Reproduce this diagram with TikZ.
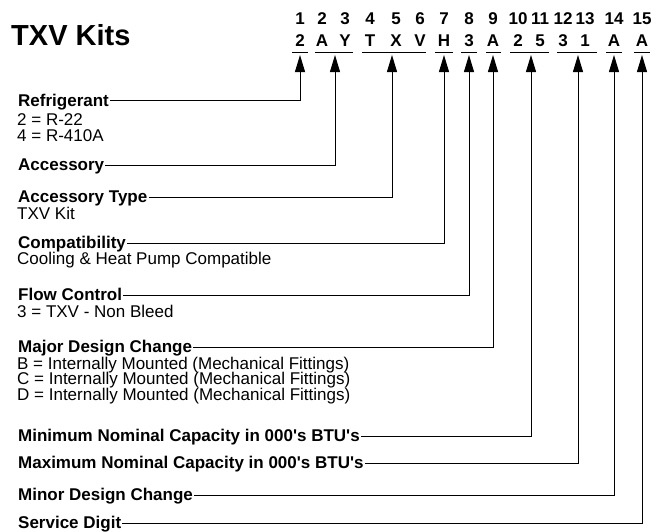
\documentclass[tikz,border=0pt]{standalone}
\usepackage{fontspec}
\setmainfont{Liberation Sans}[Ligatures=TeXOff]
\usetikzlibrary{arrows.meta}
\tikzset{
  titletxt/.style={font=\fontsize{29}{32}\selectfont\bfseries, inner sep=0pt, anchor=base west},
  digittxt/.style={font=\fontsize{17}{20}\selectfont\bfseries, inner sep=0pt, anchor=base},
  headtxt/.style={font=\fontsize{17}{20}\selectfont\bfseries, inner sep=1pt,
    text height=13pt, text depth=2pt, anchor=west},
  subtxt/.style={font=\fontsize{17}{20}\selectfont, inner sep=0pt, anchor=base west},
  uline/.style={line width=1pt},
  leadln/.style={line width=1pt, -{Triangle[length=17pt,width=10pt]}},
}

\begin{document}
\begin{tikzpicture}[x=1pt, y=-1pt]
  \useasboundingbox (0,0) rectangle (664,531);
  \node[titletxt] (title) at (11,45) {TXV Kits};
  % position numbers and model letters
  \foreach \n/\x/\c in {1/300/2, 2/322/A, 3/345/Y, 4/370/T, 5/396/X, 6/420/V, 7/444/H,
      8/469/3, 9/493/A, 10/518/2, 11/540/5, 12/563/3, 13/585/1, 14/614/A, 15/642/A} {
    \node[digittxt] (num\n) at (\x,24) {\n};
    \node[digittxt] (chr\n) at (\x,46.5) {\c};
  }
  % underlines of the groups
  \foreach \a/\b in {292/308, 315/353, 362/426, 435/453, 461/477, 486/501,
      510/549, 557/597, 606/622, 634/650}
    \draw[uline] (\a,52) -- (\b,52);
  % arrow tips under the groups
  \foreach \k/\x in {1/300, 2/335, 3/392, 4/444, 5/469, 6/493, 7/531, 8/578, 9/614, 10/642}
    \coordinate (tip\k) at (\x,55);
  % fields
  \node[headtxt] (refr) at (17,100.5) {Refrigerant};
  \node[subtxt] (refr2) at (17,125.7) {2 = R-22};
  \node[subtxt] (refr4) at (17,141.7) {4 = R-410A};
  \node[headtxt] (acc) at (17,165) {Accessory};
  \node[headtxt] (acct) at (17,197) {Accessory Type};
  \node[subtxt] (acctk) at (17,219) {TXV Kit};
  \node[headtxt] (comp) at (17,243) {Compatibility};
  \node[subtxt] (compc) at (17,264) {Cooling \& Heat Pump Compatible};
  \node[headtxt] (flow) at (17,295) {Flow Control};
  \node[subtxt] (flow3) at (17,317) {3 = TXV - Non Bleed};
  \node[headtxt] (major) at (17,347) {Major Design Change};
  \node[subtxt] (majorb) at (17,369) {B = Internally Mounted (Mechanical Fittings)};
  \node[subtxt] (majorc) at (17,384.5) {C = Internally Mounted (Mechanical Fittings)};
  \node[subtxt] (majord) at (17,400) {D = Internally Mounted (Mechanical Fittings)};
  \node[headtxt] (mincap) at (17,436) {Minimum Nominal Capacity in 000's BTU's};
  \node[headtxt] (maxcap) at (17,463) {Maximum Nominal Capacity in 000's BTU's};
  \node[headtxt] (minor) at (17,495) {Minor Design Change};
  \node[headtxt] (serv) at (17,523) {Service Digit};
  % leaders up to the groups
  \foreach \h/\k in {refr/1, acc/2, acct/3, comp/4, flow/5, major/6,
      mincap/7, maxcap/8, minor/9, serv/10}
    \draw[leadln] (\h.east) -| (tip\k);
\end{tikzpicture}
\end{document}
